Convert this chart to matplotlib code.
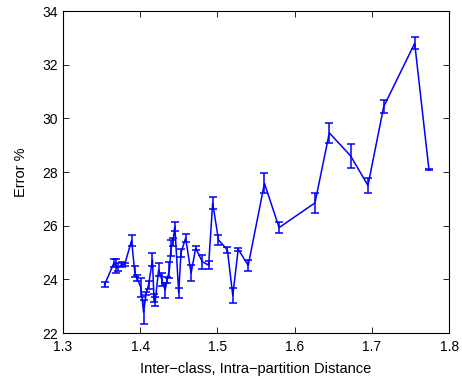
import numpy as np
import matplotlib
matplotlib.use('Agg')
import matplotlib.pyplot as plt

plt.rcParams['font.family'] = ['Liberation Sans', 'DejaVu Sans']

# inter-class, intra-partition distance
dist = [1.354, 1.366, 1.369, 1.372, 1.376, 1.380, 1.389, 1.393, 1.396, 1.401,
        1.4045, 1.408, 1.411, 1.416, 1.418, 1.4196, 1.424, 1.428, 1.4325, 1.435,
        1.438, 1.440, 1.4425, 1.445, 1.450, 1.453, 1.459, 1.466, 1.472, 1.4805,
        1.4887, 1.494, 1.5015, 1.513, 1.520, 1.527, 1.540, 1.561, 1.580, 1.6264,
        1.645, 1.6726, 1.695, 1.7154, 1.7555, 1.774]
# error %
err = [23.80, 24.60, 24.50, 24.45, 24.55, 24.55, 25.45, 24.30, 24.05, 23.70,
       22.78, 23.48, 23.80, 24.73, 23.30, 23.18, 24.36, 24.00, 23.60, 23.98,
       24.36, 25.16, 25.40, 25.97, 23.50, 25.00, 25.54, 24.23, 25.16, 24.66,
       24.53, 26.85, 25.47, 25.10, 23.40, 25.12, 24.52, 27.58, 25.93, 26.85,
       29.46, 28.60, 27.50, 30.44, 32.80, 28.08]
# half-width of error bars
sd = [0.09, 0.15, 0.25, 0.15, 0.08, 0.07, 0.20, 0.20, 0.10, 0.35,
      0.46, 0.06, 0.15, 0.25, 0.15, 0.18, 0.25, 0.25, 0.28, 0.10,
      0.30, 0.30, 0.15, 0.15, 0.19, 0.15, 0.15, 0.30, 0.08, 0.26,
      0.14, 0.22, 0.19, 0.10, 0.27, 0.06, 0.19, 0.37, 0.19, 0.38,
      0.36, 0.45, 0.27, 0.25, 0.22, 0.02]

fig = plt.figure(figsize=(4.62, 3.83), dpi=100)
ax = fig.add_axes([0.136, 0.1305, 0.836, 0.8405])

ax.errorbar(dist, err, yerr=sd, color='#0000ff', linewidth=1.1,
            elinewidth=1.1, capsize=2.8, capthick=1.1)

ax.set_xlim(1.3, 1.8)
ax.set_ylim(22, 34)
ax.set_xticks(np.arange(1.3, 1.81, 0.1))
ax.set_yticks(np.arange(22, 35, 2))
ax.set_xticklabels(['1.3', '1.4', '1.5', '1.6', '1.7', '1.8'])
ax.tick_params(direction='in', top=True, right=True, length=4, width=0.6,
               labelsize=10)
ax.tick_params(axis='x', pad=5)
for s in ax.spines.values():
    s.set_linewidth(0.8)

ax.set_xlabel('Inter\u2212class, Intra\u2212partition Distance', fontsize=10.5, labelpad=6)
ax.set_ylabel('Error %', fontsize=10.5, labelpad=10)

fig.savefig('out.png', dpi=100)
